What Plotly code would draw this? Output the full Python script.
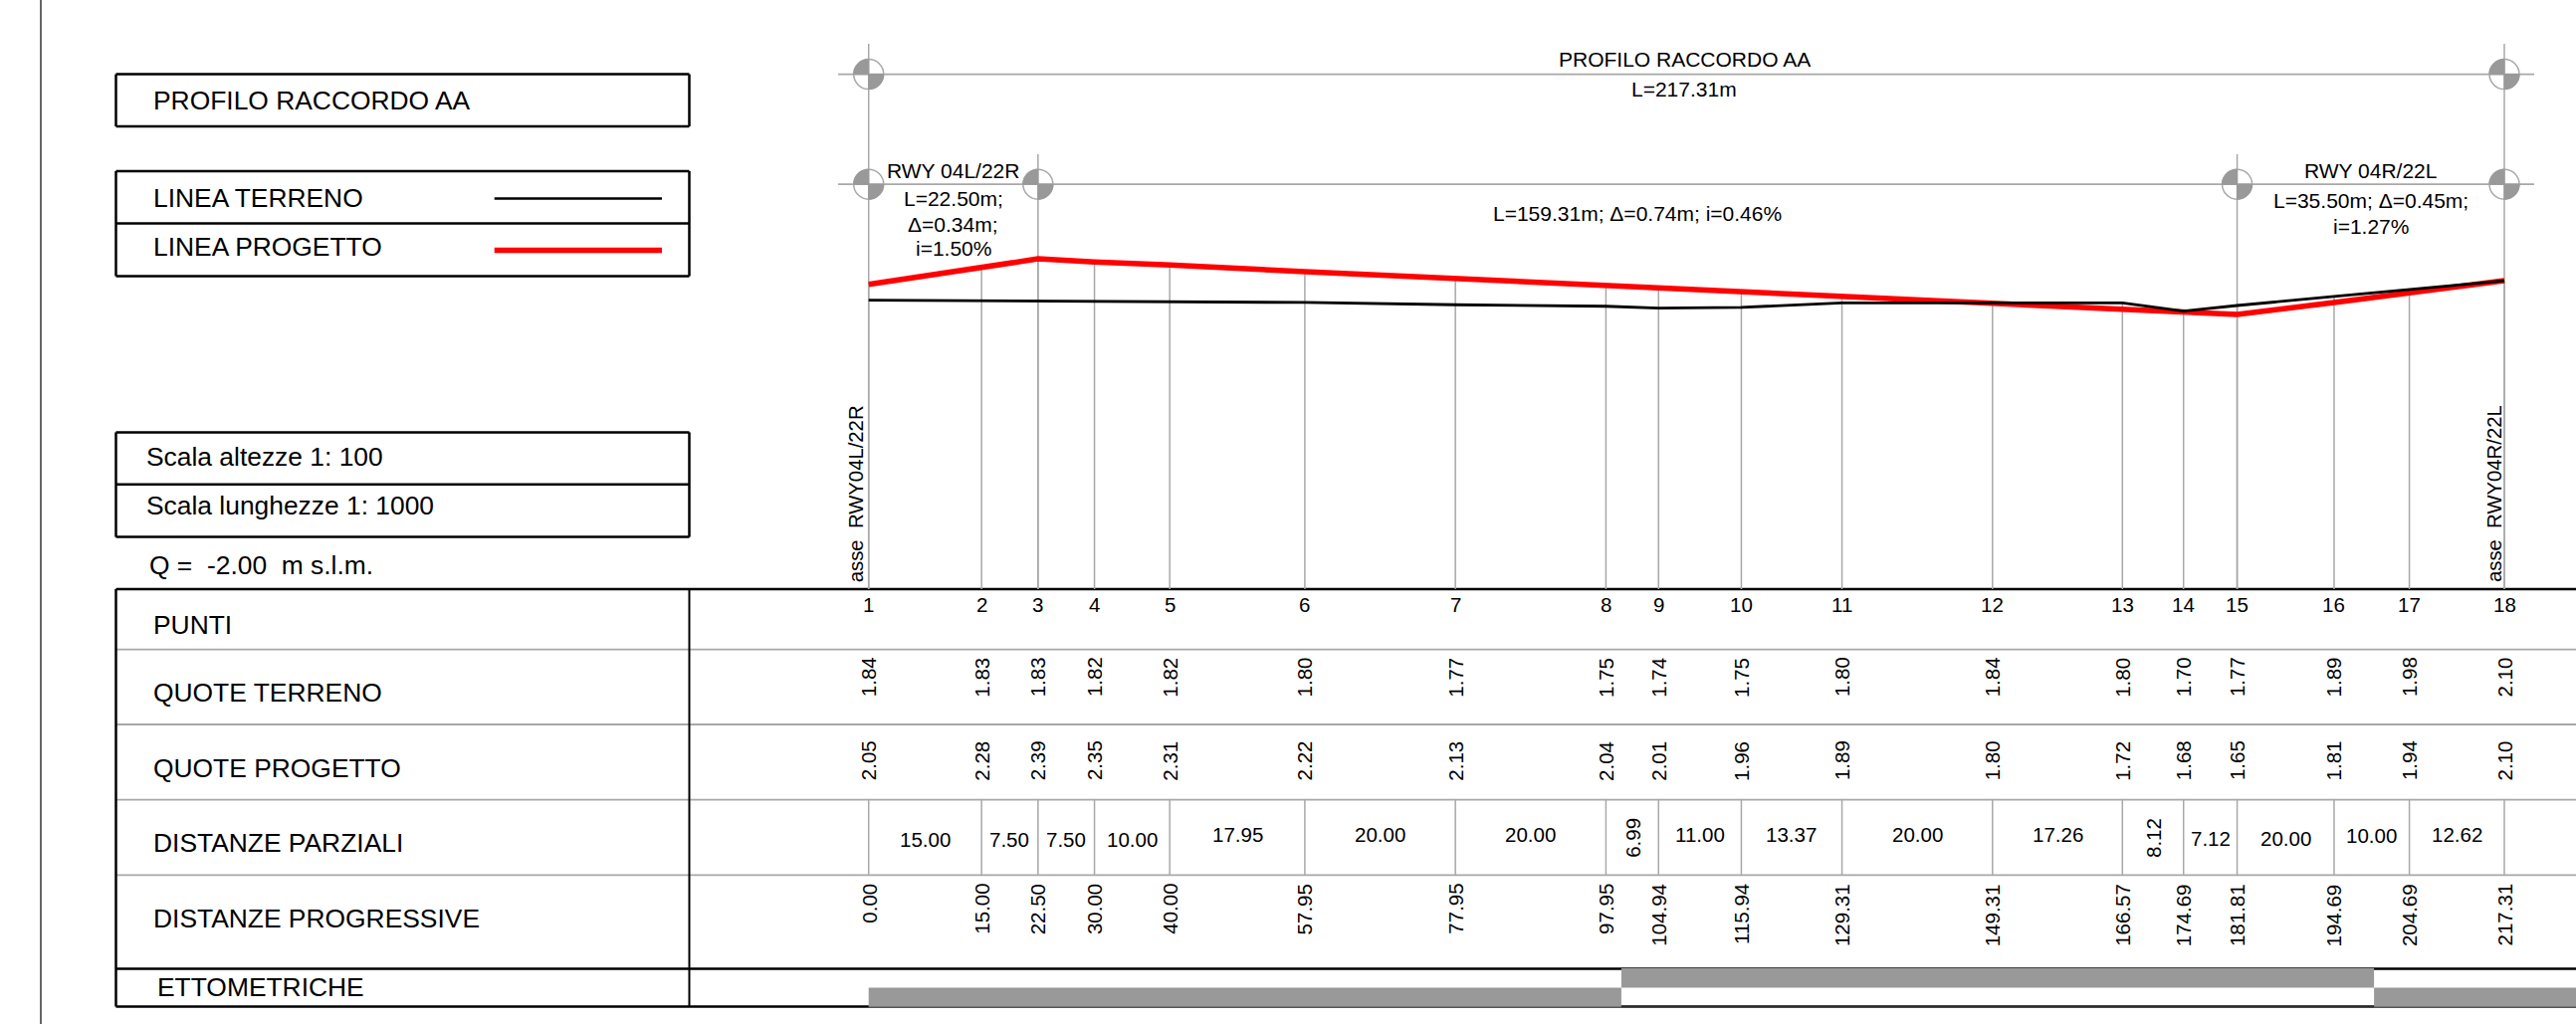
import math
import plotly.graph_objects as go

# ---- data ----
POINTS = list(range(1, 19))
PROGRESSIVE = [0.00, 15.00, 22.50, 30.00, 40.00, 57.95, 77.95, 97.95, 104.94, 115.94, 129.31, 149.31, 166.57, 174.69, 181.81, 194.69, 204.69, 217.31]
TERRAIN = [1.84, 1.83, 1.83, 1.82, 1.82, 1.80, 1.77, 1.75, 1.74, 1.75, 1.80, 1.84, 1.80, 1.70, 1.77, 1.89, 1.98, 2.10]
# the terrain line as it is drawn in the picture (differs from the labels around points 9-13)
TERRAIN_LINE = [1.84, 1.83, 1.83, 1.82, 1.82, 1.81, 1.78, 1.76, 1.735, 1.745, 1.805, 1.805, 1.805, 1.695, 1.77, 1.89, 1.98, 2.10]
PROJECT = [2.05, 2.28, 2.39, 2.35, 2.31, 2.22, 2.13, 2.04, 2.01, 1.96, 1.89, 1.80, 1.72, 1.68, 1.65, 1.81, 1.94, 2.10]
PARTIAL = ["15.00", "7.50", "7.50", "10.00", "17.95", "20.00", "20.00", "6.99", "11.00", "13.37", "20.00", "17.26", "8.12", "7.12", "20.00", "10.00", "12.62"]
PARTIAL_ROW_Y = [843, 843, 843, 843, 838, 838, 838, 842, 838, 838, 838, 838, 842, 842, 842, 839, 838]
ROTATED_PARTIAL = {"6.99", "8.12"}
ETTO_START = [0, 100, 200]
ETTO_WIDTH = [100, 100, 100]
ROW_LABELS = ["PUNTI", "QUOTE TERRENO", "QUOTE PROGETTO", "DISTANZE PARZIALI", "DISTANZE PROGRESSIVE"]
DATUM = -2.00

W, H = 2588, 1029
X0_PX, PX_PER_M = 872.7, 7.562
Y_DATUM_PX, PX_PER_M_Y = 592.0, 75.6
GRAY, BAR = "#a8a8a8", "#999999"
FONT = "Liberation Sans, Arial, sans-serif"

x_range = [-X0_PX / PX_PER_M, (W - X0_PX) / PX_PER_M]
y_range = [DATUM - (H - Y_DATUM_PX) / PX_PER_M_Y, DATUM + Y_DATUM_PX / PX_PER_M_Y]

def py(px):  # page pixel row to paper fraction
    return 1 - px / H

def elev(px):  # page pixel row to elevation
    return DATUM + (Y_DATUM_PX - px) / PX_PER_M_Y

def px_x(px):  # page pixel column to paper fraction
    return px / W

fig = go.Figure()
shapes, notes = [], []

def hline(y, x0, x1, color="black", width=2.5, layer="below"):
    shapes.append(dict(type="line", xref="paper", yref="paper", x0=px_x(x0), x1=px_x(x1), y0=py(y), y1=py(y),
                       line=dict(color=color, width=width), layer=layer))

def vline(x, y0, y1, color="black", width=2.5, xref="paper"):
    xx = px_x(x) if xref == "paper" else x
    shapes.append(dict(type="line", xref=xref, yref="paper", x0=xx, x1=xx, y0=py(y0), y1=py(y1),
                       line=dict(color=color, width=width), layer="below"))

def label(text, x, y, size=26.4, xref="paper", xanchor="left", yanchor="middle", angle=0, xshift=0):
    notes.append(dict(text=text, x=px_x(x) if xref == "paper" else x, y=py(y), xref=xref, yref="paper",
                      showarrow=False, xanchor=xanchor, yanchor=yanchor, textangle=angle, xshift=xshift,
                      borderpad=0, borderwidth=0, font=dict(family=FONT, size=size, color="black")))

def box(x0, x1, rows):
    for r in rows:
        hline(r, x0, x1)
    vline(x0, rows[0], rows[-1])
    vline(x1, rows[0], rows[-1])

# page border
vline(41, 0, H, color="#333333", width=1.5)

# left boxes
LEFT, MID = 116.5, 692.5
box(LEFT, MID, [74.6, 127])
box(LEFT, MID, [172, 224.6, 277.5])
box(LEFT, MID, [434.4, 486.8, 539.6])
label("PROFILO RACCORDO AA", 154, 101)
label("LINEA TERRENO", 154, 199.4)
label("LINEA PROGETTO", 154, 247.6)
label("Scala altezze 1: 100", 147, 459)
label("Scala lunghezze 1: 1000", 147, 507.5)
label("Q =\u00a0\u00a0-2.00\u00a0\u00a0m s.l.m.", 150, 568)
hline(199.4, 496.7, 665, "black", 2.5)
hline(251.4, 496.7, 665, "#ff0000", 5.5)

# table frame
for y in [652.7, 728, 803.7, 879.3]:
    hline(y, LEFT, W, GRAY, 1.8)
hline(592, LEFT, W)
hline(973.5, LEFT, W)
hline(1011.5, LEFT, W)
vline(LEFT, 592, 1011.5)
vline(MID, 592, 1011.5, width=2)
for name, y in zip(ROW_LABELS, [628, 696, 771.7, 847, 923]):
    label(name, 154, y)
label("ETTOMETRICHE", 158, 991.7)

# dimension lines and markers
for y in [74.6, 185.2]:
    hline(y, 842, 2546, GRAY, 1.8)
for x, top in [(PROGRESSIVE[0], 44), (PROGRESSIVE[-1], 44), (PROGRESSIVE[2], 155), (PROGRESSIVE[14], 155)]:
    vline(x, top, 592, GRAY, 1.5, xref="x")
R = 15

def quarter(a0, a1, n=10):
    pts = [(R * math.cos(math.radians(a0 + (a1 - a0) * i / n)), R * math.sin(math.radians(a0 + (a1 - a0) * i / n)))
           for i in range(n + 1)]
    return "M0,0 " + " ".join(f"L{px:.2f},{qy:.2f}" for px, qy in pts) + " Z"

for x, y in [(PROGRESSIVE[0], 74.6), (PROGRESSIVE[-1], 74.6), (PROGRESSIVE[0], 185.2), (PROGRESSIVE[2], 185.2),
             (PROGRESSIVE[14], 185.2), (PROGRESSIVE[-1], 185.2)]:
    base = dict(xref="x", yref="paper", xsizemode="pixel", ysizemode="pixel", xanchor=x, yanchor=py(y), layer="below")
    shapes.append(dict(type="circle", x0=-R, x1=R, y0=-R, y1=R, line=dict(color=GRAY, width=1.5), **base))
    shapes.append(dict(type="path", path=quarter(90, 180), fillcolor=BAR, line=dict(color=BAR, width=1), **base))
    shapes.append(dict(type="path", path=quarter(270, 360), fillcolor=BAR, line=dict(color=BAR, width=1), **base))

# top captions
label("PROFILO RACCORDO AA", 108.4, 59.3, 21, "x", "center")
label("L=217.31m", 108.4, 90, 21, "x", "center")
for t, y in [("RWY 04L/22R", 171.7), ("L=22.50m;", 199.3), ("Δ=0.34m;", 226), ("i=1.50%", 250)]:
    label(t, 11.25, y, 21, "x", "center")
label("L=159.31m; Δ=0.74m; i=0.46%", 102.16, 214, 21, "x", "center")
for t, y in [("RWY 04R/22L", 171), ("L=35.50m; Δ=0.45m;", 201.7), ("i=1.27%", 227.7)]:
    label(t, 199.56, y, 21, "x", "center")
label("asse\u00a0\u00a0RWY04L/22R", PROGRESSIVE[0], 585.5, 20.3, "x", "center", "bottom", -90, -13)
label("asse\u00a0\u00a0RWY04R/22L", PROGRESSIVE[-1], 585.5, 20.3, "x", "center", "bottom", -90, -10.5)

# table cells
for p, x, t, q in zip(POINTS, PROGRESSIVE, TERRAIN, PROJECT):
    label(str(p), x, 607.7, 20.5, "x", "center")
    label(f"{t:.2f}", x, 680.5, 20.5, "x", "center", "middle", -90)
    label(f"{q:.2f}", x, 764.5, 20.5, "x", "center", "middle", -90)
    label(f"{x:.2f}", x, 888, 20.5, "x", "center", "top", -90)
    vline(x, 803.7, 879.3, GRAY, 1.5, xref="x")
for a, b, d, y in zip(PROGRESSIVE[:-1], PROGRESSIVE[1:], PARTIAL, PARTIAL_ROW_Y):
    label(d, (a + b) / 2, y, 20.5, "x", "center", "middle", -90 if d in ROTATED_PARTIAL else 0)

# drop lines from the profile to the datum
drop_x, drop_y = [], []
for x, t, q in zip(PROGRESSIVE, TERRAIN_LINE, PROJECT):
    drop_x += [x, x, None]
    drop_y += [max(t, q), DATUM, None]
fig.add_trace(go.Scatter(x=drop_x, y=drop_y, mode="lines", line=dict(color=GRAY, width=1.5), hoverinfo="skip"))

# hectometric bars: alternate between the two halves of the row
ups = [False, True, False]
for s, w, up in zip(ETTO_START, ETTO_WIDTH, ups):
    lo, hi = (992.5, 973.0) if up else (1012.2, 992.5)
    fig.add_trace(go.Bar(x=[s + w / 2], width=[w], base=[elev(lo)], y=[elev(hi) - elev(lo)],
                         marker=dict(color=BAR, line=dict(width=0))))
hline(1012, 872.7, W, "#555555", 1, layer="above")

fig.add_trace(go.Scatter(x=PROGRESSIVE, y=PROJECT, mode="lines", line=dict(color="#ff0000", width=5.5), name="LINEA PROGETTO"))
fig.add_trace(go.Scatter(x=PROGRESSIVE, y=TERRAIN_LINE, mode="lines", line=dict(color="black", width=2.8), name="LINEA TERRENO"))

fig.update_layout(
    width=W, height=H, margin=dict(l=0, r=0, t=0, b=0, pad=0), showlegend=False,
    paper_bgcolor="white", plot_bgcolor="white", barmode="overlay",
    xaxis=dict(range=x_range, visible=False, fixedrange=True),
    yaxis=dict(range=y_range, visible=False, fixedrange=True),
    shapes=shapes, annotations=notes,
)
fig.write_html("out.html", config=dict(displayModeBar=False),
               post_script="document.body.style.margin='0';document.body.style.overflow='hidden';")
